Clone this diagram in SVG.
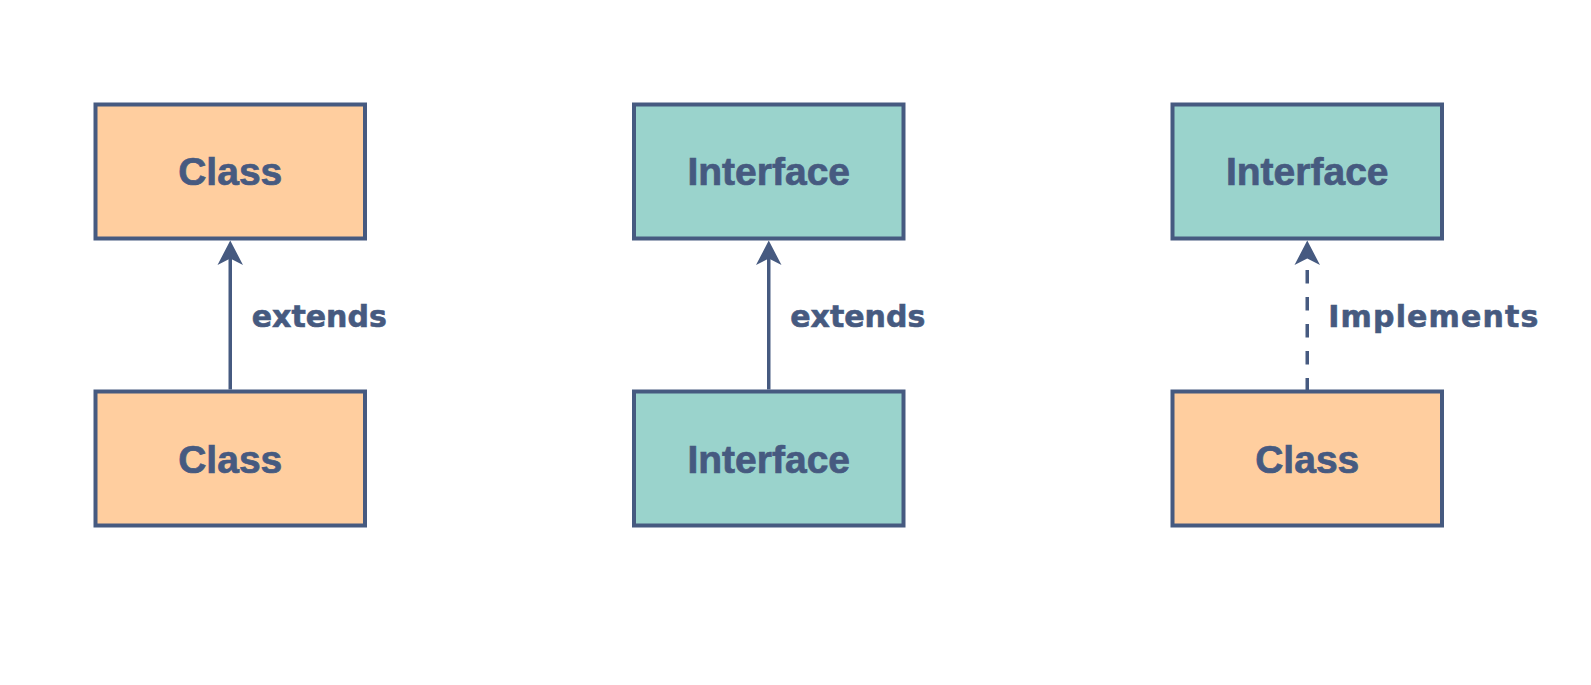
<svg xmlns="http://www.w3.org/2000/svg" width="1591" height="685" viewBox="0 0 1591 685">
<style>
.box{stroke:#465A80;stroke-width:4}
.cls{fill:#FFCE9F}
.itf{fill:#9AD3CC}
.t{font-family:"Liberation Sans",Arial,sans-serif;font-weight:bold;font-size:39px;fill:#465A80;stroke:#465A80;stroke-width:0.7;text-anchor:middle}
.lbl{font-family:"DejaVu Sans",Verdana,sans-serif;font-weight:bold;font-size:30px;fill:#465A80;stroke:#465A80;stroke-width:0.6}
.edge{stroke:#465A80;stroke-width:3.5;fill:none}
.dash{stroke-dasharray:13.5 13.5}
.head{fill:#465A80}
</style>
<rect width="1591" height="685" fill="#FFFFFF"/>
<g id="node-class-top-1">
<rect class="box cls" x="95.5" y="104.5" width="269.5" height="134"/>
<text class="t" x="230.25" y="185">Class</text>
</g>
<g id="node-class-bottom-1">
<rect class="box cls" x="95.5" y="391.5" width="269.5" height="134"/>
<text class="t" x="230.25" y="472.5">Class</text>
</g>
<g id="node-interface-top-2">
<rect class="box itf" x="634" y="104.5" width="269.5" height="134"/>
<text class="t" x="768.75" y="185">Interface</text>
</g>
<g id="node-interface-bottom-2">
<rect class="box itf" x="634" y="391.5" width="269.5" height="134"/>
<text class="t" x="768.75" y="472.5">Interface</text>
</g>
<g id="node-interface-top-3">
<rect class="box itf" x="1172.5" y="104.5" width="269.5" height="134"/>
<text class="t" x="1307.25" y="185">Interface</text>
</g>
<g id="node-class-bottom-3">
<rect class="box cls" x="1172.5" y="391.5" width="269.5" height="134"/>
<text class="t" x="1307.25" y="472.5">Class</text>
</g>
<g id="connectors">
<line class="edge" x1="230.25" y1="389.5" x2="230.25" y2="258"/>
<path class="head" d="M230.25 240.5 L243 265 L230.25 258.5 L217.5 265 Z"/>
<text class="lbl" x="251.7" y="326.7">extends</text>
<line class="edge" x1="768.75" y1="389.5" x2="768.75" y2="258"/>
<path class="head" d="M768.75 240.5 L781.5 265 L768.75 258.5 L756 265 Z"/>
<text class="lbl" x="790.2" y="326.7">extends</text>
<line class="edge dash" x1="1307.25" y1="391.5" x2="1307.25" y2="258"/>
<path class="head" d="M1307.25 240.5 L1320 265 L1307.25 258.5 L1294.5 265 Z"/>
<text class="lbl" x="1328.3" y="326.7" textLength="210" lengthAdjust="spacing">Implements</text>
</g>
</svg>
